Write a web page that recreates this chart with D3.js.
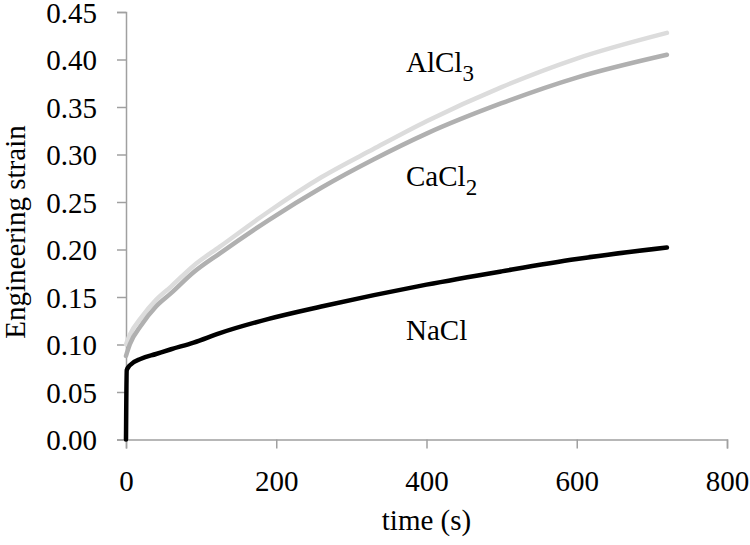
<!DOCTYPE html>
<html>
<head>
<meta charset="utf-8">
<script src="https://cdn.jsdelivr.net/npm/d3@7"></script>
<style>
  body { margin: 0; background: #fff; }
  text { font-family: "Liberation Serif", "Times New Roman", serif; fill: #000; }
</style>
</head>
<body>
<svg id="chart" width="750" height="545"></svg>
<script>
// time (s), engineering strain
var timeNaCl  = [0, 1, 5, 20, 40, 60, 90, 125, 190, 260, 330, 400, 500, 600, 720];
var strainNaCl = [0, 0.073, 0.078, 0.085, 0.090, 0.095, 0.102, 0.112, 0.127, 0.140, 0.152, 0.163, 0.177, 0.190, 0.202];

var timeSalt = [0, 5, 20, 40, 60, 90, 125, 190, 260, 330, 400, 500, 600, 720];
var strainAlCl3 = [0.100, 0.110, 0.128, 0.147, 0.161, 0.183, 0.203, 0.240, 0.276, 0.306, 0.335, 0.371, 0.401, 0.428];
var strainCaCl2 = [0.088, 0.100, 0.120, 0.140, 0.154, 0.176, 0.196, 0.231, 0.265, 0.295, 0.322, 0.354, 0.381, 0.405];

var xTicks = [0, 200, 400, 600, 800];
var yTicks = [0, 0.05, 0.10, 0.15, 0.20, 0.25, 0.30, 0.35, 0.40, 0.45];

var margin = {top: 12, left: 126},
    width = 727 - 126,
    height = 439.5 - 12;

var svg = d3.select("#chart")
    .append("g")
    .attr("transform", "translate(" + margin.left + "," + margin.top + ")");

var x = d3.scaleLinear().domain([0, 800]).range([0, width]);
var y = d3.scaleLinear().domain([0, 0.45]).range([height, 0]);

// axes
var xAxis = svg.append("g")
    .attr("transform", "translate(0," + height + ")")
    .call(d3.axisBottom(x).tickValues(xTicks).tickSize(9).tickPadding(22).tickFormat(d3.format("d")));
var yAxis = svg.append("g")
    .call(d3.axisLeft(y).tickValues(yTicks).tickSize(9).tickPadding(20).tickFormat(d3.format(".2f")));

[xAxis, yAxis].forEach(function (a) {
    a.attr("font-family", null);
    a.selectAll("path, line").attr("stroke", "#a0a0a0").attr("stroke-width", 1.5);
    a.selectAll("text").style("font-size", "29px");
});
yAxis.selectAll("text").attr("dy", "0.36em");

// lines
var line = d3.line().curve(d3.curveMonotoneX);

function draw(times, vals, color) {
    svg.append("path")
        .datum(times.map(function (t, i) { return [x(t), y(vals[i])]; }))
        .attr("d", line)
        .attr("fill", "none")
        .attr("stroke", color)
        .attr("stroke-width", 4.5)
        .attr("stroke-linecap", "round")
        .attr("stroke-linejoin", "round");
}
draw(timeSalt, strainAlCl3, "#dcdcdc");
draw(timeSalt, strainCaCl2, "#b0b0b0");
draw(timeNaCl, strainNaCl, "#000");

// labels
function label(px, py, main, sub) {
    var t = svg.append("text")
        .attr("x", px - margin.left)
        .attr("y", py - margin.top)
        .style("font-size", "29px");
    t.append("tspan").text(main);
    if (sub) t.append("tspan").attr("dy", 9).style("font-size", "23px").text(sub);
}
label(406, 72, "AlCl", "3");
label(406, 186, "CaCl", "2");
label(406, 340, "NaCl");

svg.append("text")
    .attr("x", x(400))
    .attr("y", 530 - margin.top)
    .attr("text-anchor", "middle")
    .style("font-size", "29px")
    .text("time (s)");

svg.append("text")
    .attr("transform", "translate(" + (25 - margin.left) + "," + (232 - margin.top) + ") rotate(-90)")
    .attr("text-anchor", "middle")
    .style("font-size", "29px")
    .text("Engineering strain");
</script>
</body>
</html>
